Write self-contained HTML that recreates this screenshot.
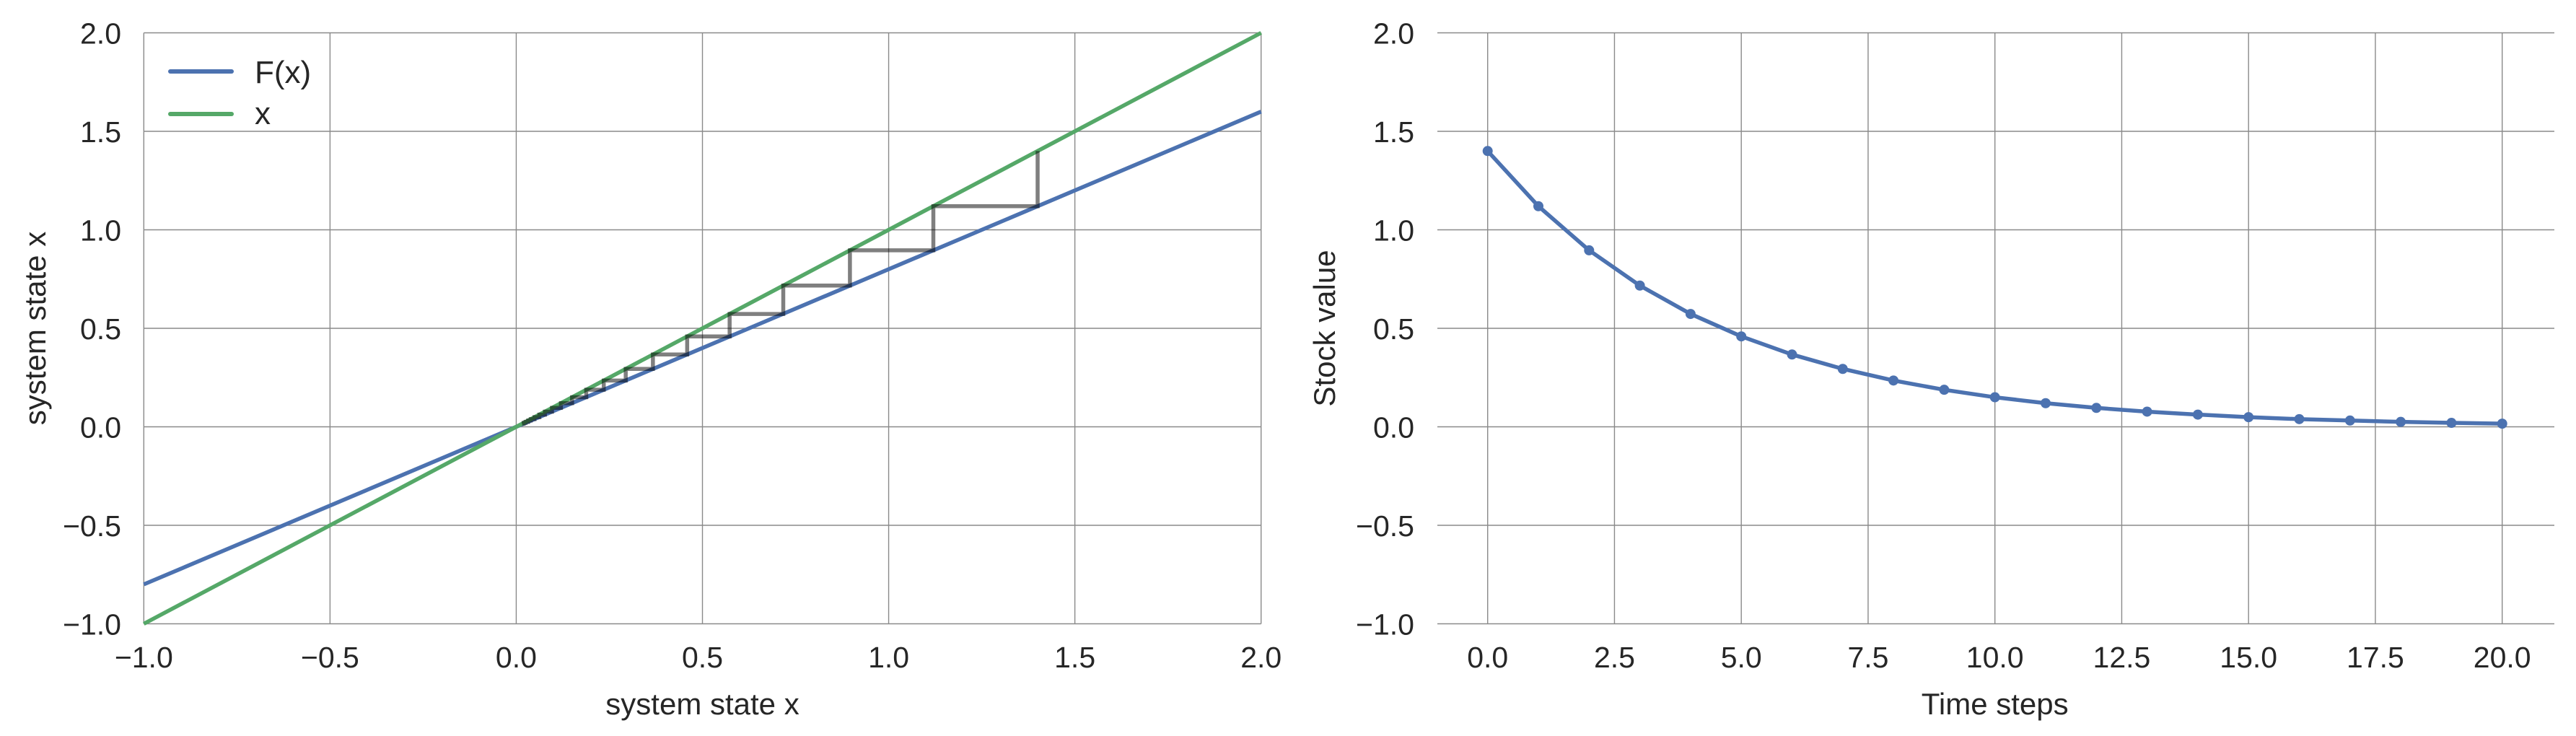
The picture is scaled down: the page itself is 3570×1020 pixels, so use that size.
<!DOCTYPE html>
<html><head><meta charset="utf-8"><style>
html,body{margin:0;padding:0;background:#fff;}
svg{display:block;font-family:"Liberation Sans",Arial,sans-serif;}
text{fill:#262626;}
</style></head><body>
<svg id="fig" width="3570" height="1020" viewBox="0 0 3570 1020" xmlns="http://www.w3.org/2000/svg">
<g id="left"></g>
<g id="right"></g>
</svg>
<script>
const leftXTicks = [-1.0, -0.5, 0.0, 0.5, 1.0, 1.5, 2.0];
const leftYTicks = [-1.0, -0.5, 0.0, 0.5, 1.0, 1.5, 2.0];
const lineFxX = [-1.0, 2.0];
const lineFxY = [-0.8, 1.6];
const lineIdX = [-1.0, 2.0];
const lineIdY = [-1.0, 2.0];
const cobwebX = [1.4, 1.4, 1.12, 1.12, 0.896, 0.896, 0.717, 0.717, 0.573, 0.573, 0.459, 0.459, 0.367, 0.367, 0.294, 0.294, 0.235, 0.235, 0.188, 0.188, 0.150, 0.150, 0.120, 0.120, 0.096, 0.096, 0.077, 0.077, 0.062, 0.062, 0.049, 0.049, 0.039, 0.039, 0.032, 0.032, 0.025, 0.025, 0.020, 0.020, 0.016];
const cobwebY = [1.4, 1.12, 1.12, 0.896, 0.896, 0.717, 0.717, 0.573, 0.573, 0.459, 0.459, 0.367, 0.367, 0.294, 0.294, 0.235, 0.235, 0.188, 0.188, 0.150, 0.150, 0.120, 0.120, 0.096, 0.096, 0.077, 0.077, 0.062, 0.062, 0.049, 0.049, 0.039, 0.039, 0.032, 0.032, 0.025, 0.025, 0.020, 0.020, 0.016, 0.016];
const rightXTicks = [0.0, 2.5, 5.0, 7.5, 10.0, 12.5, 15.0, 17.5, 20.0];
const rightYTicks = [-1.0, -0.5, 0.0, 0.5, 1.0, 1.5, 2.0];
const timeSteps = [0,1,2,3,4,5,6,7,8,9,10,11,12,13,14,15,16,17,18,19,20];
const stockValues = [1.4, 1.12, 0.896, 0.717, 0.573, 0.459, 0.367, 0.294, 0.235, 0.188, 0.150, 0.120, 0.096, 0.077, 0.062, 0.049, 0.039, 0.032, 0.025, 0.020, 0.016];

const NS = "http://www.w3.org/2000/svg";
function mk(parent, tag, attrs){const e=document.createElementNS(NS,tag);for(const k in attrs)e.setAttribute(k,attrs[k]);parent.appendChild(e);return e;}
function fmt(v){return (v<0?"\u2212":"")+Math.abs(v).toFixed(1);}

const PT=45.5, PB=864.5;
function yScale(v){return PB-(v-(-1))/3*(PB-PT);}

// LEFT
const L=document.getElementById('left');
const lx0=199.3, lx1=1747.7;
function lx(v){return lx0+(v+1)/3*(lx1-lx0);}
leftXTicks.forEach(t=>{
  const g=mk(L,'line',{x1:lx(t),x2:lx(t),y1:PT,y2:PB,stroke:'#8a8a8a','stroke-width':1.4});
  
  
  const tx=mk(L,'text',{x:lx(t),y:925,'font-size':41,'text-anchor':'middle'});tx.textContent=fmt(t);
  
  
});
leftYTicks.forEach(t=>{
  const g=mk(L,'line',{x1:lx0,x2:lx1,y1:yScale(t),y2:yScale(t),stroke:'#8a8a8a','stroke-width':1.4});
  
  
  const tx=mk(L,'text',{x:168,y:yScale(t)+15,'font-size':41,'text-anchor':'end'});tx.textContent=fmt(t);
  
  
});
function poly(parent,xs,ys,sx,attrs,name){
  const pts=xs.map((x,i)=>sx(x).toFixed(2)+','+yScale(ys[i]).toFixed(2)).join(' ');
  const p=mk(parent,'polyline',Object.assign({points:pts,fill:'none'},attrs));
  
  
  return p;
}
poly(L,lineFxX,lineFxY,lx,{stroke:'#4c72b0','stroke-width':5.5},'fx-line');
poly(L,lineIdX,lineIdY,lx,{stroke:'#55a868','stroke-width':5.5},'identity-line');
poly(L,cobwebX,cobwebY,lx,{stroke:'rgba(0,0,0,0.5)','stroke-width':5.5},'cobweb-path');
// legend
const lg=mk(L,'g',{});


const l1=mk(lg,'line',{x1:236,x2:321,y1:99,y2:99,stroke:'#4c72b0','stroke-width':6,'stroke-linecap':'round'});


const t1=mk(lg,'text',{x:353,y:115,'font-size':44});t1.textContent='F(x)';


const l2=mk(lg,'line',{x1:236,x2:321,y1:158,y2:158,stroke:'#55a868','stroke-width':6,'stroke-linecap':'round'});


const t2=mk(lg,'text',{x:353,y:172,'font-size':44});t2.textContent='x';


const lxt=mk(L,'text',{x:lx(0.5),y:990,'font-size':42,'text-anchor':'middle'});lxt.textContent='system state x';


const lyt=mk(L,'text',{x:0,y:0,'font-size':42,'text-anchor':'middle',transform:'translate(63,'+yScale(0.5)+') rotate(-90)'});lyt.textContent='system state x';



// RIGHT
const R=document.getElementById('right');
const rb0=1992, rb1=3540;
function rx(v){return 2061.7+v*70.3;}
rightXTicks.forEach(t=>{
  const g=mk(R,'line',{x1:rx(t),x2:rx(t),y1:PT,y2:PB,stroke:'#8a8a8a','stroke-width':1.4});
  
  
  const tx=mk(R,'text',{x:rx(t),y:925,'font-size':41,'text-anchor':'middle'});tx.textContent=t.toFixed(1);
  
  
});
rightYTicks.forEach(t=>{
  const g=mk(R,'line',{x1:rb0,x2:rb1,y1:yScale(t),y2:yScale(t),stroke:'#8a8a8a','stroke-width':1.4});
  
  
  const tx=mk(R,'text',{x:1960,y:yScale(t)+15,'font-size':41,'text-anchor':'end'});tx.textContent=fmt(t);
  
  
});
poly(R,timeSteps,stockValues,rx,{stroke:'#4c72b0','stroke-width':5.5,'stroke-linejoin':'round'},'stock-line');
timeSteps.forEach((t,i)=>{
  const c=mk(R,'circle',{cx:rx(t),cy:yScale(stockValues[i]),r:7,fill:'#4c72b0'});
  
  
});
const rxt=mk(R,'text',{x:rx(10),y:990,'font-size':42,'text-anchor':'middle'});rxt.textContent='Time steps';


const ryt=mk(R,'text',{x:0,y:0,'font-size':42,'text-anchor':'middle',transform:'translate(1850,'+yScale(0.5)+') rotate(-90)'});ryt.textContent='Stock value';


</script>
</body></html>
